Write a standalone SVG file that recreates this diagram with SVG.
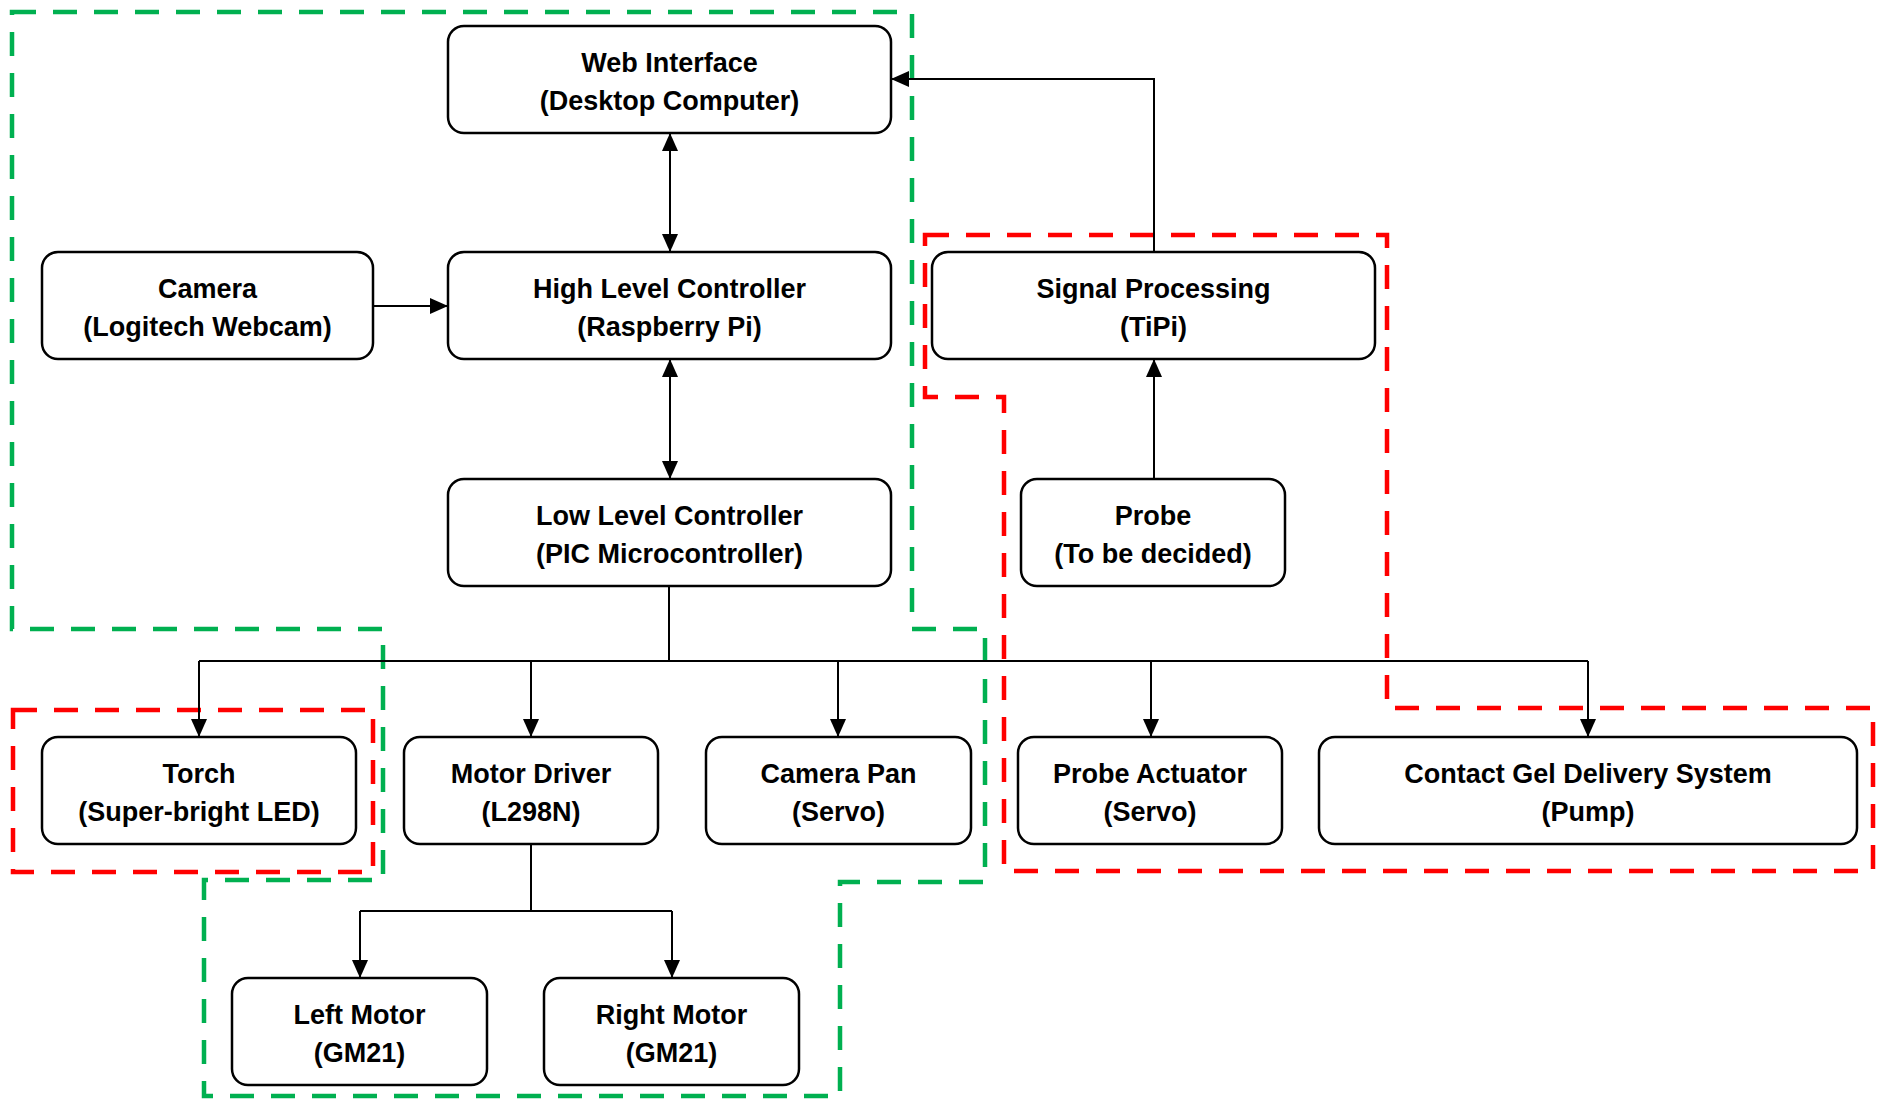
<svg xmlns="http://www.w3.org/2000/svg" width="1881" height="1105" viewBox="0 0 1881 1105">
<style>
.box{fill:#fff;stroke:#000;stroke-width:2.5}
.t{font-family:"Liberation Sans",Arial,sans-serif;font-weight:bold;font-size:27px;fill:#000;text-anchor:middle}
.c{fill:none;stroke:#000;stroke-width:2}
.g{fill:none;stroke:#00b050;stroke-width:4.5;stroke-dasharray:24 17}
.r{fill:none;stroke:#ff0000;stroke-width:4.5;stroke-dasharray:24 17}
</style>
<defs>
<marker id="ah" markerUnits="userSpaceOnUse" markerWidth="19" markerHeight="16" refX="18" refY="8" orient="auto-start-reverse">
<path d="M0,0 L18,8 L0,16 z" fill="#000"/>
</marker>
</defs>
<rect width="1881" height="1105" fill="#fff"/>
<g id="groups">
<path class="g" d="M12,12 H912 V629 H985 V882 H840 V1096 H204 V880 H383 V629 H12 Z"/>
<path class="r" d="M925,235 H1387 V708 H1873 V871 H1004 V397 H925 Z"/>
<rect class="r" x="13" y="710" width="360" height="162"/>
</g>
<g id="connectors">
<line class="c" x1="670" y1="133" x2="670" y2="252" marker-start="url(#ah)" marker-end="url(#ah)"/>
<line class="c" x1="670" y1="359" x2="670" y2="479" marker-start="url(#ah)" marker-end="url(#ah)"/>
<line class="c" x1="373" y1="306" x2="448" y2="306" marker-end="url(#ah)"/>
<path class="c" d="M1154,252 V79 H891" marker-end="url(#ah)"/>
<line class="c" x1="1154" y1="479" x2="1154" y2="359" marker-end="url(#ah)"/>
<path class="c" d="M669,586 V661"/>
<path class="c" d="M199,661 H1588"/>
<line class="c" x1="199" y1="661" x2="199" y2="737" marker-end="url(#ah)"/>
<line class="c" x1="531" y1="661" x2="531" y2="737" marker-end="url(#ah)"/>
<line class="c" x1="838" y1="661" x2="838" y2="737" marker-end="url(#ah)"/>
<line class="c" x1="1151" y1="661" x2="1151" y2="737" marker-end="url(#ah)"/>
<line class="c" x1="1588" y1="661" x2="1588" y2="737" marker-end="url(#ah)"/>
<path class="c" d="M531,844 V911"/>
<path class="c" d="M360,911 H672"/>
<line class="c" x1="360" y1="911" x2="360" y2="978" marker-end="url(#ah)"/>
<line class="c" x1="672" y1="911" x2="672" y2="978" marker-end="url(#ah)"/>
</g>
<g id="web"><rect class="box" x="448" y="26" width="443" height="107" rx="16"/><text class="t" x="669.5" y="72">Web Interface</text><text class="t" x="669.5" y="110">(Desktop Computer)</text></g>
<g id="camera"><rect class="box" x="42" y="252" width="331" height="107" rx="16"/><text class="t" x="207.5" y="298">Camera</text><text class="t" x="207.5" y="336">(Logitech Webcam)</text></g>
<g id="hlc"><rect class="box" x="448" y="252" width="443" height="107" rx="16"/><text class="t" x="669.5" y="298">High Level Controller</text><text class="t" x="669.5" y="336">(Raspberry Pi)</text></g>
<g id="signal"><rect class="box" x="932" y="252" width="443" height="107" rx="16"/><text class="t" x="1153.5" y="298">Signal Processing</text><text class="t" x="1153.5" y="336">(TiPi)</text></g>
<g id="llc"><rect class="box" x="448" y="479" width="443" height="107" rx="16"/><text class="t" x="669.5" y="525">Low Level Controller</text><text class="t" x="669.5" y="563">(PIC Microcontroller)</text></g>
<g id="probe"><rect class="box" x="1021" y="479" width="264" height="107" rx="16"/><text class="t" x="1153" y="525">Probe</text><text class="t" x="1153" y="563">(To be decided)</text></g>
<g id="torch"><rect class="box" x="42" y="737" width="314" height="107" rx="16"/><text class="t" x="199" y="783">Torch</text><text class="t" x="199" y="821">(Super-bright LED)</text></g>
<g id="motordriver"><rect class="box" x="404" y="737" width="254" height="107" rx="16"/><text class="t" x="531" y="783">Motor Driver</text><text class="t" x="531" y="821">(L298N)</text></g>
<g id="camerapan"><rect class="box" x="706" y="737" width="265" height="107" rx="16"/><text class="t" x="838.5" y="783">Camera Pan</text><text class="t" x="838.5" y="821">(Servo)</text></g>
<g id="probeactuator"><rect class="box" x="1018" y="737" width="264" height="107" rx="16"/><text class="t" x="1150" y="783">Probe Actuator</text><text class="t" x="1150" y="821">(Servo)</text></g>
<g id="gel"><rect class="box" x="1319" y="737" width="538" height="107" rx="16"/><text class="t" x="1588" y="783">Contact Gel Delivery System</text><text class="t" x="1588" y="821">(Pump)</text></g>
<g id="leftmotor"><rect class="box" x="232" y="978" width="255" height="107" rx="16"/><text class="t" x="359.5" y="1024">Left Motor</text><text class="t" x="359.5" y="1062">(GM21)</text></g>
<g id="rightmotor"><rect class="box" x="544" y="978" width="255" height="107" rx="16"/><text class="t" x="671.5" y="1024">Right Motor</text><text class="t" x="671.5" y="1062">(GM21)</text></g>
</svg>
